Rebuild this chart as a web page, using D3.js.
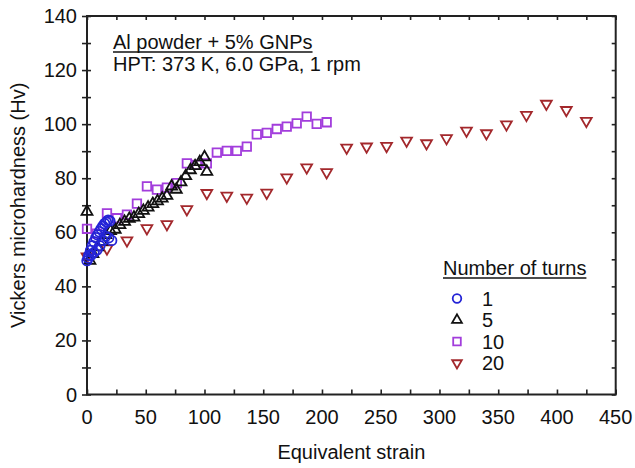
<!DOCTYPE html>
<html><head><meta charset="utf-8">
<script src="https://cdn.jsdelivr.net/npm/d3@7"></script>
<style>
html,body{margin:0;padding:0;background:#fff;}
text{font-family:"Liberation Sans",Arial,sans-serif;fill:#111;}
</style></head>
<body><svg id="c" width="635" height="468"></svg>
<script>
// ---- data ----
const xTicks = [0,50,100,150,200,250,300,350,400,450];
const yTicks = [0,20,40,60,80,100,120,140];
const legendLabels = ["1","5","10","20"];

const x1 = [0,1.5,3,4.5,6,7.5,9,10.5,12,13.5,15,16.5,18,19.5, 1,3.5,6,8.5,11,13.5,16,18.5,21];
const y1 = [49.5,51.5,53.3,55,56.5,58,59,60.2,61.3,62.3,63.2,63.8,64.5,64.2, 50.5,51.5,52.5,53.5,55,57,58.5,58,57];

const x5 = [0,2.5,5,9,12.5,16,20,24,28,32,36,40,44,48,52,56,60,64,68,72,76,80,84,88,92,96,100,102];
const y5 = [67.6,49.5,52,54.5,56.5,59,60.5,61,62.7,63.9,65,65.5,66.8,68,69.2,70.5,71.5,72.5,73.5,77,75.8,78.5,80.8,83,84.5,86,87.8,82.4];

const x10 = [0,8.5,17,25.5,34,42.5,51,59.5,68,76.5,85,93.5,102,110.5,119,127.5,136,144.5,153,161.5,170,178.5,187,195.5,204];
const y10 = [61.3,59.5,67,65.2,66.5,70.6,77,75.8,76.5,78.2,85.5,84.9,85.5,89.5,90.1,90.1,91.7,96.2,96.8,98.2,99.1,100.3,102.8,100.1,100.7];

const x20 = [0,17,34,51,68,85,102,119,136,153,170,187,204,221,238,255,272,289,306,323,340,357,374,391,408,425];
const y20 = [51,54,57,61.5,63,68.5,74.5,73.5,72.8,74.6,80.3,84,82.2,91.3,91.7,91.9,93.9,92.9,94.8,97.6,96.6,99.9,103.4,107.5,105.2,101.2];

// ---- layout ----
const svg = d3.select("#c");
const L = 87, R = 615.7, T = 16, B = 394.5;
const xs = d3.scaleLinear().domain([0,450]).range([L,R]);
const ys = d3.scaleLinear().domain([0,140]).range([B,T]);

const series = [
  {xs:x20, ys:y20, type:"down", color:"#a3282c", size:50},
  {xs:x10, ys:y10, type:"square", color:"#a23ddc", size:72},
  {xs:x5,  ys:y5,  type:"tri", color:"#111", size:52},
  {xs:x1,  ys:y1,  type:"circle", color:"#2424d6", size:72}
];

function symPath(type, size){
  const t = type==="circle"?d3.symbolCircle:type==="square"?d3.symbolSquare:d3.symbolTriangle;
  return d3.symbol().type(t).size(size)();
}

// axes (ticks)
const minorX = d3.range(0,451,25), minorY = d3.range(0,141,10);
const axB = d3.axisBottom(xs).tickValues(minorX).tickSize(-5).tickFormat("");
const axT = d3.axisTop(xs).tickValues(minorX).tickSize(-4).tickFormat("");
const axL = d3.axisLeft(ys).tickValues(minorY).tickSize(5).tickFormat("");
const axR = d3.axisRight(ys).tickValues(minorY).tickSize(-4).tickFormat("");
function styleAx(g){ g.select(".domain").remove(); g.selectAll("line").attr("stroke","#222").attr("stroke-width",1.6); }
svg.append("g").attr("transform",`translate(0,${B})`).call(axB).call(styleAx);
svg.append("g").attr("transform",`translate(0,${T})`).call(axT).call(styleAx);
svg.append("g").attr("transform",`translate(${L},0)`).call(axL).call(styleAx)
   .selectAll(".tick line").attr("x1",4);
svg.append("g").attr("transform",`translate(${R},0)`).call(axR).call(styleAx);

// frame
svg.append("rect").attr("x",L).attr("y",T).attr("width",R-L).attr("height",B-T)
  .attr("fill","none").attr("stroke","#222").attr("stroke-width",2);

// tick labels
svg.append("g").selectAll("text").data(xTicks).join("text")
  .attr("x",d=>xs(d)).attr("y",B+29).attr("text-anchor","middle").attr("font-size",20).text(d=>d);
svg.append("g").selectAll("text").data(yTicks).join("text")
  .attr("x",L-10).attr("y",d=>ys(d)+7).attr("text-anchor","end").attr("font-size",20).text(d=>d);

// axis titles
svg.append("text").attr("x",(L+R)/2).attr("y",459).attr("text-anchor","middle").attr("font-size",20).text("Equivalent strain");
svg.append("text").attr("transform",`translate(25,${(T+B)/2}) rotate(-90)`).attr("text-anchor","middle").attr("font-size",20).text("Vickers microhardness (Hv)");

// data
series.forEach(s=>{
  const g = svg.append("g");
  g.selectAll("path").data(s.xs.map((v,i)=>[v,s.ys[i]])).join("path")
    .attr("d",symPath(s.type,s.size))
    .attr("transform",d=>`translate(${xs(d[0])},${ys(d[1])})`+(s.type==="down"?" rotate(180)":""))
    .attr("fill","none").attr("stroke",s.color).attr("stroke-width",1.8);
});

// annotation
function underlined(txt, tx, ty){
  const t = svg.append("text").attr("x",tx).attr("y",ty).attr("font-size",20).text(txt);
  const w = t.node().getComputedTextLength();
  svg.append("line").attr("x1",tx).attr("x2",tx+w).attr("y1",ty+3).attr("y2",ty+3).attr("stroke","#111").attr("stroke-width",1.3);
}
underlined("Al powder + 5% GNPs", 113, 49);
svg.append("text").attr("x",113).attr("y",71).attr("font-size",20).text("HPT: 373 K, 6.0 GPa, 1 rpm");

// legend
underlined("Number of turns", 443, 275);
const legRows = [298.5,320,341.5,363];
const legOrder = [3,2,1,0];
legendLabels.forEach((lab,i)=>{
  const s = series[legOrder[i]];
  svg.append("path").attr("d",symPath(s.type,s.size*0.8))
    .attr("transform",`translate(457,${legRows[i]})`+(s.type==="down"?" rotate(180)":""))
    .attr("fill","none").attr("stroke",s.color).attr("stroke-width",1.8);
  svg.append("text").attr("x",482).attr("y",legRows[i]+7).attr("font-size",20).text(lab);
});
</script></body></html>
